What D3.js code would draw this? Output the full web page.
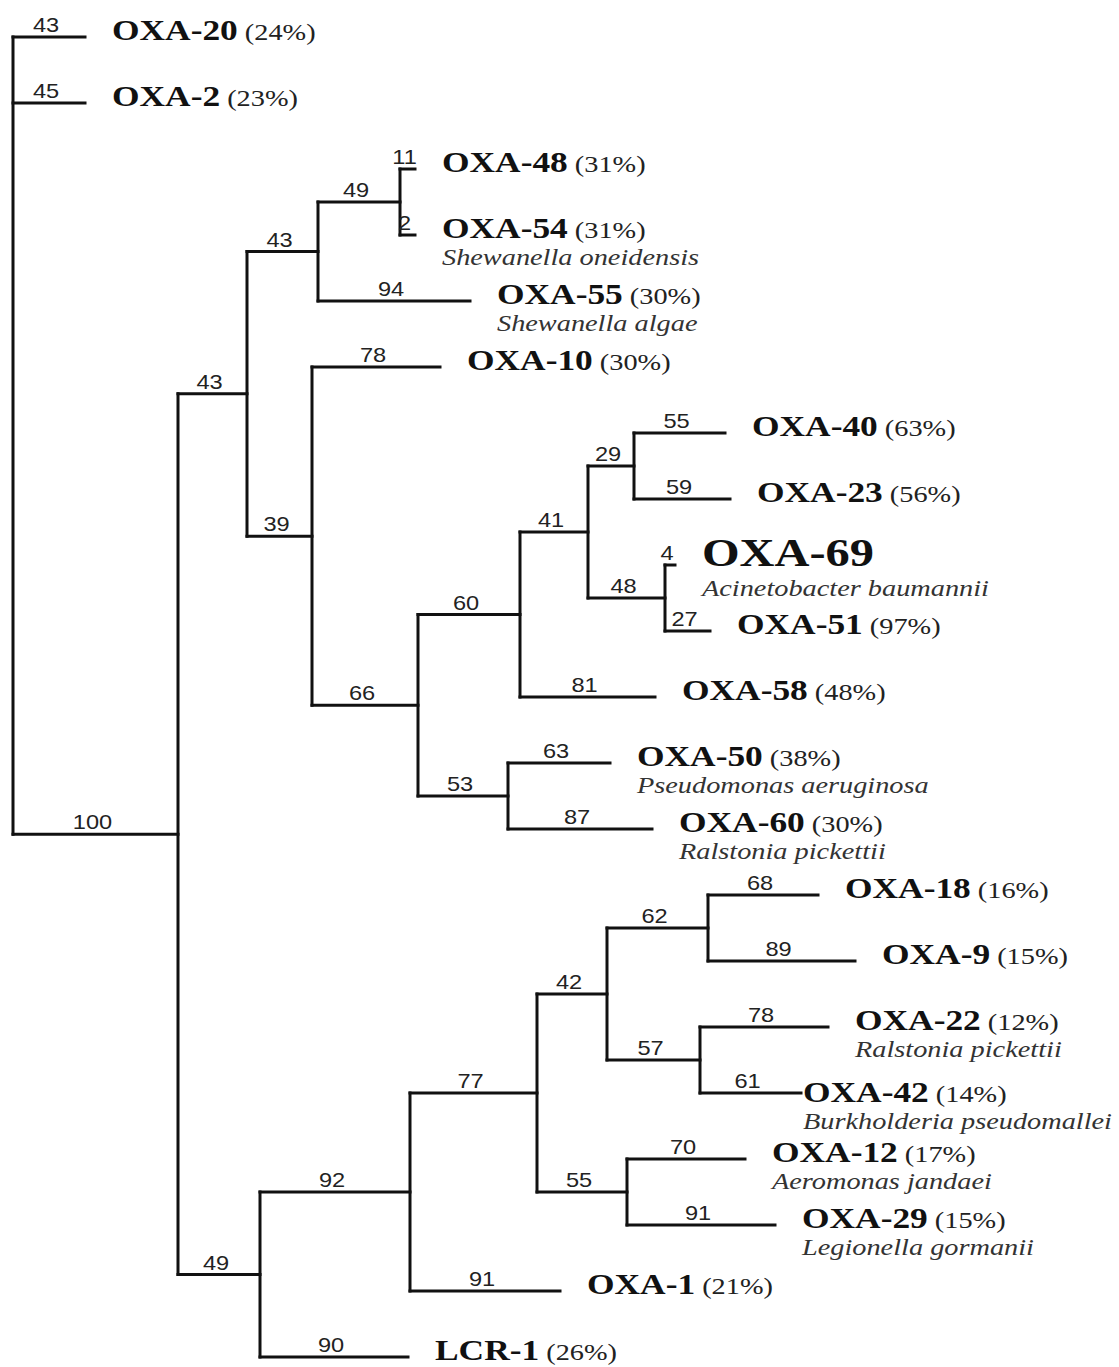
<!DOCTYPE html>
<html>
<head>
<meta charset="utf-8">
<script src="https://cdn.jsdelivr.net/npm/d3@7"></script>
<style>
  body { margin: 0; background: #fff; }
  svg { display: block; }
  .branch { fill: none; stroke: #111; stroke-width: 3; stroke-linecap: square; }
  .boot { font-family: "Liberation Sans", Arial, sans-serif; font-size: 20px; fill: #222; }
  .name { font-family: "Liberation Serif", "Times New Roman", serif; font-weight: bold; font-size: 30px; fill: #111; }
  .pct { font-family: "Liberation Serif", "Times New Roman", serif; font-weight: normal; font-size: 24px; fill: #222; }
  .species { font-family: "Liberation Serif", "Times New Roman", serif; font-style: italic; font-size: 24px; fill: #333; }
</style>
</head>
<body>
<svg class="tree" width="1119" height="1367"></svg>
<script>
// tree topology, in drawing order (children keep this order top to bottom)
const nodeIds = ['root', 'OXA-20', 'OXA-2', 'n100', 'nA', 'nB', 'nC', 'OXA-48', 'OXA-54', 'OXA-55',
  'nD', 'OXA-10', 'nE', 'nF', 'nG', 'nH', 'OXA-40', 'OXA-23', 'nI', 'OXA-69', 'OXA-51', 'OXA-58',
  'nJ', 'OXA-50', 'OXA-60', 'nK', 'nL', 'nM', 'nN', 'nO', 'OXA-18', 'OXA-9', 'nP', 'OXA-22', 'OXA-42',
  'nQ', 'OXA-12', 'OXA-29', 'OXA-1', 'LCR-1']
const parentIds = ['', 'root', 'root', 'root', 'n100', 'nA', 'nB', 'nC', 'nC', 'nB',
  'nA', 'nD', 'nD', 'nE', 'nF', 'nG', 'nH', 'nH', 'nG', 'nI', 'nI', 'nF',
  'nE', 'nJ', 'nJ', 'n100', 'nK', 'nL', 'nM', 'nN', 'nO', 'nO', 'nN', 'nP', 'nP',
  'nM', 'nQ', 'nQ', 'nL', 'nK']
const branchLength = [0, 0.072, 0.072, 0.165, 0.069, 0.071, 0.082, 0.015, 0.015, 0.152,
  0.065, 0.128, 0.106, 0.102, 0.068, 0.046, 0.091, 0.096, 0.077, 0.010, 0.045, 0.135,
  0.090, 0.102, 0.144, 0.082, 0.150, 0.127, 0.070, 0.101, 0.110, 0.147, 0.093, 0.128, 0.101,
  0.090, 0.118, 0.148, 0.150, 0.148]
const bootstrap = [null, 43, 45, 100, 43, 43, 49, 11, 2, 94,
  39, 78, 66, 60, 41, 29, 55, 59, 48, 4, 27, 81,
  53, 63, 87, 49, 92, 77, 42, 62, 68, 89, 57, 78, 61,
  55, 70, 91, 91, 90]

// leaf labels, top to bottom
const leafNames = ['OXA-20', 'OXA-2', 'OXA-48', 'OXA-54', 'OXA-55', 'OXA-10', 'OXA-40', 'OXA-23',
  'OXA-69', 'OXA-51', 'OXA-58', 'OXA-50', 'OXA-60', 'OXA-18', 'OXA-9', 'OXA-22', 'OXA-42',
  'OXA-12', 'OXA-29', 'OXA-1', 'LCR-1']
const leafIdentity = [24, 23, 31, 31, 30, 30, 63, 56, null, 97, 48, 38, 30, 16, 15, 12, 14, 17, 15, 21, 26]
const leafSpecies = ['', '', '', 'Shewanella oneidensis', 'Shewanella algae', '', '', '',
  'Acinetobacter baumannii', '', '', 'Pseudomonas aeruginosa', 'Ralstonia pickettii', '', '',
  'Ralstonia pickettii', 'Burkholderia pseudomallei', 'Aeromonas jandaei', 'Legionella gormanii', '', '']

const stretch = 1.18
const labelGap = 27

const table = nodeIds.map((id, i) => ({
  id, parent: parentIds[i] || null, length: branchLength[i], boot: bootstrap[i]
}))
const root = d3.stratify().id(d => d.id).parentId(d => d.parent)(table)
root.eachBefore(n => { n.dist = n.parent ? n.parent.dist + n.data.length : 0 })

const x = d3.scaleLinear().domain([0, 1]).range([13, 1013])
const y = d3.scalePoint().domain(leafNames).range([37, 1357])

root.eachAfter(n => {
  if (n.children) {
    n.py = (n.children[0].py + n.children[n.children.length - 1].py) / 2
  } else {
    n.py = y(n.id)
  }
  n.px = x(n.dist)
})

const svg = d3.select('svg.tree')
const g = svg.append('g')

// horizontal branches
g.selectAll('line.h')
  .data(root.descendants().filter(n => n.parent))
  .enter().append('line')
  .attr('class', 'branch h')
  .attr('x1', d => d.parent.px)
  .attr('x2', d => d.px)
  .attr('y1', d => d.py)
  .attr('y2', d => d.py)

// vertical connectors
g.selectAll('line.v')
  .data(root.descendants().filter(n => n.children))
  .enter().append('line')
  .attr('class', 'branch v')
  .attr('x1', d => d.px)
  .attr('x2', d => d.px)
  .attr('y1', d => d.children[0].py)
  .attr('y2', d => d.children[d.children.length - 1].py)

// bootstrap values above each branch
g.selectAll('text.boot')
  .data(root.descendants().filter(n => n.parent && n.data.boot != null))
  .enter().append('text')
  .attr('class', 'boot')
  .attr('text-anchor', 'middle')
  .attr('transform', d => `translate(${(d.parent.px + d.px) / 2 - 3},${d.py - 5}) scale(${stretch},1)`)
  .text(d => d.data.boot)

// leaf labels
const leaves = root.leaves()
const leafIdx = (d) => leafNames.indexOf(d.id)
const gapFor = (d) => d.id === 'OXA-42' ? 2 : labelGap
const dyFor = (d) => d.id === 'OXA-42' ? 9 : (d.id === 'OXA-69' ? 1 : 3)

const labels = g.selectAll('g.leaf')
  .data(leaves)
  .enter().append('g')
  .attr('class', 'leaf')
  .attr('transform', d => `translate(${d.px + gapFor(d)},${d.py + dyFor(d)}) scale(${stretch},1)`)

const nameText = labels.append('text')
  .attr('class', 'name')
  .style('font-size', d => d.id === 'OXA-69' ? '41px' : null)
nameText.append('tspan').text(d => d.id)
nameText.filter(d => leafIdentity[leafIdx(d)] != null)
  .append('tspan')
  .attr('class', 'pct')
  .attr('dx', 6)
  .text(d => `(${leafIdentity[leafIdx(d)]}%)`)

labels.filter(d => leafSpecies[leafIdx(d)])
  .append('text')
  .attr('class', 'species')
  .attr('y', d => d.id === 'OXA-69' ? 30 : 27)
  .text(d => leafSpecies[leafIdx(d)])
</script>
</body>
</html>
